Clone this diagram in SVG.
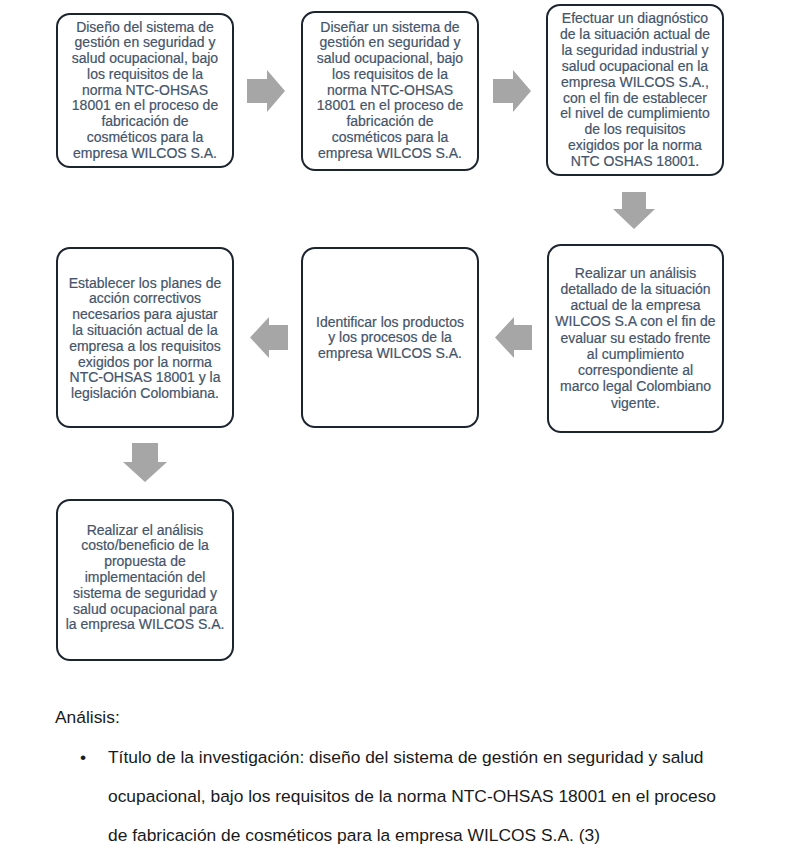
<svg xmlns="http://www.w3.org/2000/svg" width="800" height="850" viewBox="0 0 800 850">
<style>
.box{fill:#ffffff;stroke:#1c2430;stroke-width:2}
.bt{font-family:"Liberation Sans",Arial,sans-serif;font-size:14px;fill:#44546a;stroke:#44546a;stroke-width:0.2;text-anchor:middle}
.arr{fill:#a6a6a6}
.doc{font-family:"Liberation Sans",Arial,sans-serif;font-size:17.4px;fill:#1a1a1a}
</style>
<rect width="800" height="850" fill="#ffffff"/>
<g id="connectors">
<polygon class="arr" points="247,79 267,79 267,70 285,91 267,112 267,103 247,103"/>
<polygon class="arr" points="493,79 513,79 513,70 531,91 513,112 513,103 493,103"/>
<polygon class="arr" points="622,192 646,192 646,209 655,209 634,229 613,209 622,209"/>
<polygon class="arr" points="532,325 514,325 514,317 495,337.5 514,358 514,350 532,350"/>
<polygon class="arr" points="288,325 269,325 269,317 250,337.5 269,358 269,350 288,350"/>
<polygon class="arr" points="132,443 158,443 158,462 167,462 145,482 123,462 132,462"/>
</g>
<g id="n1">
<rect class="box" x="57" y="14" width="176" height="153" rx="13"/>
<text class="bt"><tspan x="145" y="31.5">Diseño del sistema de</tspan><tspan x="145" y="47.25">gestión en seguridad y</tspan><tspan x="145" y="63">salud ocupacional, bajo</tspan><tspan x="145" y="78.75">los requisitos de la</tspan><tspan x="145" y="94.5">norma NTC-OHSAS</tspan><tspan x="145" y="110.25">18001 en el proceso de</tspan><tspan x="145" y="126">fabricación de</tspan><tspan x="145" y="141.75">cosméticos para la</tspan><tspan x="145" y="157.5">empresa WILCOS S.A.</tspan></text>
</g>
<g id="n2">
<rect class="box" x="302" y="12" width="176" height="158" rx="13"/>
<text class="bt"><tspan x="390" y="31.5">Diseñar un sistema de</tspan><tspan x="390" y="47.25">gestión en seguridad y</tspan><tspan x="390" y="63">salud ocupacional, bajo</tspan><tspan x="390" y="78.75">los requisitos de la</tspan><tspan x="390" y="94.5">norma NTC-OHSAS</tspan><tspan x="390" y="110.25">18001 en el proceso de</tspan><tspan x="390" y="126">fabricación de</tspan><tspan x="390" y="141.75">cosméticos para la</tspan><tspan x="390" y="157.5">empresa WILCOS S.A.</tspan></text>
</g>
<g id="n3">
<rect class="box" x="547" y="5" width="176" height="170" rx="13"/>
<text class="bt"><tspan x="635" y="23">Efectuar un diagnóstico</tspan><tspan x="635" y="38.9">de la situación actual de</tspan><tspan x="635" y="54.8">la seguridad industrial y</tspan><tspan x="635" y="70.7">salud ocupacional en la</tspan><tspan x="635" y="86.6">empresa WILCOS S.A.,</tspan><tspan x="635" y="102.5">con el fin de establecer</tspan><tspan x="635" y="118.4">el nivel de cumplimiento</tspan><tspan x="635" y="134.3">de los requisitos</tspan><tspan x="635" y="150.2">exigidos por la norma</tspan><tspan x="635" y="166.1">NTC OSHAS 18001.</tspan></text>
</g>
<g id="n4">
<rect class="box" x="548" y="245" width="175" height="187" rx="13"/>
<text class="bt"><tspan x="635.5" y="277.5">Realizar un análisis</tspan><tspan x="635.5" y="293.75">detallado de la situación</tspan><tspan x="635.5" y="310">actual de la empresa</tspan><tspan x="635.5" y="326.25">WILCOS S.A con el fin de</tspan><tspan x="635.5" y="342.5">evaluar su estado frente</tspan><tspan x="635.5" y="358.75">al cumplimiento</tspan><tspan x="635.5" y="375">correspondiente al</tspan><tspan x="635.5" y="391.25">marco legal Colombiano</tspan><tspan x="635.5" y="407.5">vigente.</tspan></text>
</g>
<g id="n5">
<rect class="box" x="302" y="248" width="176" height="179" rx="13"/>
<text class="bt"><tspan x="390" y="326.5">Identificar los productos</tspan><tspan x="390" y="342.3">y los procesos de la</tspan><tspan x="390" y="358.1">empresa WILCOS S.A.</tspan></text>
</g>
<g id="n6">
<rect class="box" x="57" y="248" width="176" height="179" rx="13"/>
<text class="bt"><tspan x="145" y="287.5">Establecer los planes de</tspan><tspan x="145" y="303.3">acción correctivos</tspan><tspan x="145" y="319.1">necesarios para ajustar</tspan><tspan x="145" y="334.9">la situación actual de la</tspan><tspan x="145" y="350.7">empresa a los requisitos</tspan><tspan x="145" y="366.5">exigidos por la norma</tspan><tspan x="145" y="382.3">NTC-OHSAS 18001 y la</tspan><tspan x="145" y="398.1">legislación Colombiana.</tspan></text>
</g>
<g id="n7">
<rect class="box" x="57" y="500" width="176" height="160" rx="13"/>
<text class="bt"><tspan x="145" y="534.5">Realizar el análisis</tspan><tspan x="145" y="550.3">costo/beneficio de la</tspan><tspan x="145" y="566.1">propuesta de</tspan><tspan x="145" y="581.9">implementación del</tspan><tspan x="145" y="597.7">sistema de seguridad y</tspan><tspan x="145" y="613.5">salud ocupacional para</tspan><tspan x="145" y="629.3">la empresa WILCOS S.A.</tspan></text>
</g>
<g id="analysis">
<text class="doc" x="55" y="723">Análisis:</text>
<text class="doc" x="80" y="763">•</text>
<text class="doc" x="108" y="763">Título de la investigación: diseño del sistema de gestión en seguridad y salud</text>
<text class="doc" x="108" y="802">ocupacional, bajo los requisitos de la norma NTC-OHSAS 18001 en el proceso</text>
<text class="doc" x="108" y="841">de fabricación de cosméticos para la empresa WILCOS S.A. (3)</text>
</g>
</svg>
